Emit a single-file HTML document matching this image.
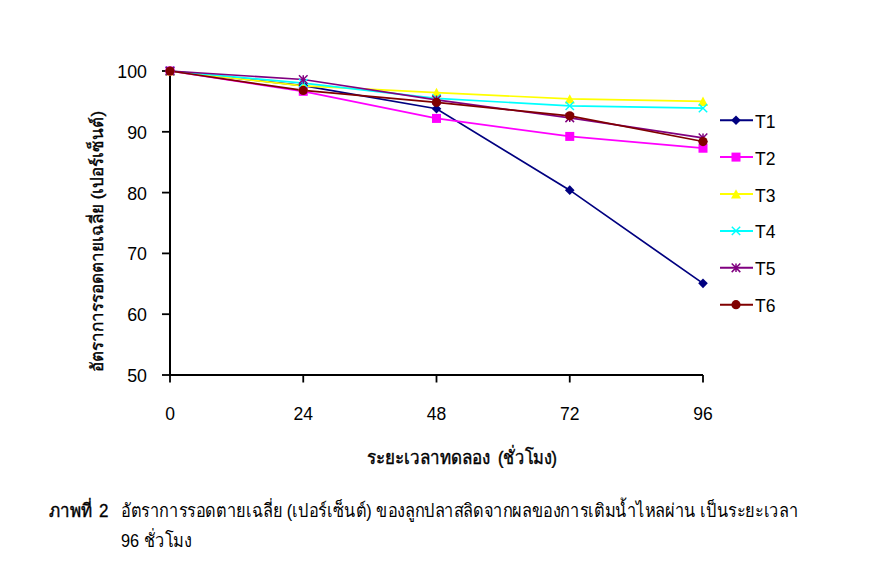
<!DOCTYPE html>
<html><head><meta charset="utf-8"><style>
html,body{margin:0;padding:0;background:#fff;width:874px;height:581px;overflow:hidden}
body{position:relative;font-family:"Liberation Sans",sans-serif;color:#000}
svg{position:absolute;left:0;top:0}
.yl{position:absolute;left:100px;width:47px;text-align:right;font-size:17.8px;line-height:22px}
.xl{position:absolute;top:403px;width:60px;text-align:center;font-size:17.5px;line-height:22px}
.lt{position:absolute;left:755px;font-size:17.5px;line-height:22px}
.ytitle{position:absolute;left:0;top:0;white-space:nowrap;font-size:17px;line-height:20px;transform-origin:0 0;-webkit-text-stroke:0.4px #000}
.xtitle{position:absolute;top:443px;white-space:nowrap;font-size:17px;line-height:30px;transform:scale(1,1.1);transform-origin:0 50%;-webkit-text-stroke:0.4px #000}
.cap{position:absolute;white-space:nowrap;font-size:17px;line-height:30px;transform-origin:0 50%}
</style></head><body>
<svg width="874" height="581" viewBox="0 0 874 581"><path d="M170 71V375H703" stroke="#000" stroke-width="2" fill="none"/><line x1="162" y1="71.00" x2="170" y2="71.00" stroke="#000" stroke-width="1.8"/><line x1="162" y1="131.80" x2="170" y2="131.80" stroke="#000" stroke-width="1.8"/><line x1="162" y1="192.60" x2="170" y2="192.60" stroke="#000" stroke-width="1.8"/><line x1="162" y1="253.40" x2="170" y2="253.40" stroke="#000" stroke-width="1.8"/><line x1="162" y1="314.20" x2="170" y2="314.20" stroke="#000" stroke-width="1.8"/><line x1="162" y1="375.00" x2="170" y2="375.00" stroke="#000" stroke-width="1.8"/><line x1="170.00" y1="375" x2="170.00" y2="382.5" stroke="#000" stroke-width="1.8"/><line x1="303.25" y1="375" x2="303.25" y2="382.5" stroke="#000" stroke-width="1.8"/><line x1="436.50" y1="375" x2="436.50" y2="382.5" stroke="#000" stroke-width="1.8"/><line x1="569.75" y1="375" x2="569.75" y2="382.5" stroke="#000" stroke-width="1.8"/><line x1="703.00" y1="375" x2="703.00" y2="382.5" stroke="#000" stroke-width="1.8"/><polyline points="170.00,71.00 303.25,85.59 436.50,108.70 569.75,190.17 703.00,283.37" stroke="#000080" stroke-width="1.7" fill="none"/><polyline points="170.00,71.00 303.25,91.31 436.50,118.42 569.75,136.42 703.00,148.22" stroke="#FF00FF" stroke-width="1.7" fill="none"/><polyline points="170.00,71.00 303.25,85.90 436.50,92.58 569.75,98.97 703.00,101.40" stroke="#FFFF00" stroke-width="1.7" fill="none"/><polyline points="170.00,71.00 303.25,83.16 436.50,98.36 569.75,105.90 703.00,108.09" stroke="#00FFFF" stroke-width="1.7" fill="none"/><polyline points="170.00,71.00 303.25,79.51 436.50,99.88 569.75,117.82 703.00,137.88" stroke="#800080" stroke-width="1.7" fill="none"/><polyline points="170.00,71.00 303.25,90.46 436.50,102.37 569.75,115.81 703.00,141.53" stroke="#800000" stroke-width="1.7" fill="none"/><path d="M170.00 66.20L174.80 71.00L170.00 75.80L165.20 71.00Z" fill="#000080"/><path d="M303.25 80.79L308.05 85.59L303.25 90.39L298.45 85.59Z" fill="#000080"/><path d="M436.50 103.90L441.30 108.70L436.50 113.50L431.70 108.70Z" fill="#000080"/><path d="M569.75 185.37L574.55 190.17L569.75 194.97L564.95 190.17Z" fill="#000080"/><path d="M703.00 278.57L707.80 283.37L703.00 288.17L698.20 283.37Z" fill="#000080"/><rect x="165.50" y="66.50" width="9.00" height="9.00" fill="#FF00FF"/><rect x="298.75" y="86.81" width="9.00" height="9.00" fill="#FF00FF"/><rect x="432.00" y="113.92" width="9.00" height="9.00" fill="#FF00FF"/><rect x="565.25" y="131.92" width="9.00" height="9.00" fill="#FF00FF"/><rect x="698.50" y="143.72" width="9.00" height="9.00" fill="#FF00FF"/><path d="M170.00 66.20L175.00 75.60L165.00 75.60Z" fill="#FFFF00"/><path d="M303.25 81.10L308.25 90.50L298.25 90.50Z" fill="#FFFF00"/><path d="M436.50 87.78L441.50 97.18L431.50 97.18Z" fill="#FFFF00"/><path d="M569.75 94.17L574.75 103.57L564.75 103.57Z" fill="#FFFF00"/><path d="M703.00 96.60L708.00 106.00L698.00 106.00Z" fill="#FFFF00"/><path d="M165.80 66.80L174.20 75.20M174.20 66.80L165.80 75.20" stroke="#00FFFF" stroke-width="1.45" fill="none"/><path d="M299.05 78.96L307.45 87.36M307.45 78.96L299.05 87.36" stroke="#00FFFF" stroke-width="1.45" fill="none"/><path d="M432.30 94.16L440.70 102.56M440.70 94.16L432.30 102.56" stroke="#00FFFF" stroke-width="1.45" fill="none"/><path d="M565.55 101.70L573.95 110.10M573.95 101.70L565.55 110.10" stroke="#00FFFF" stroke-width="1.45" fill="none"/><path d="M698.80 103.89L707.20 112.29M707.20 103.89L698.80 112.29" stroke="#00FFFF" stroke-width="1.45" fill="none"/><path d="M165.70 66.70L174.30 75.30M174.30 66.70L165.70 75.30M170.00 66.70L170.00 75.30" stroke="#800080" stroke-width="1.5" fill="none"/><path d="M298.95 75.21L307.55 83.81M307.55 75.21L298.95 83.81M303.25 75.21L303.25 83.81" stroke="#800080" stroke-width="1.5" fill="none"/><path d="M432.20 95.58L440.80 104.18M440.80 95.58L432.20 104.18M436.50 95.58L436.50 104.18" stroke="#800080" stroke-width="1.5" fill="none"/><path d="M565.45 113.52L574.05 122.12M574.05 113.52L565.45 122.12M569.75 113.52L569.75 122.12" stroke="#800080" stroke-width="1.5" fill="none"/><path d="M698.70 133.58L707.30 142.18M707.30 133.58L698.70 142.18M703.00 133.58L703.00 142.18" stroke="#800080" stroke-width="1.5" fill="none"/><circle cx="170.00" cy="71.00" r="4.6" fill="#800000"/><circle cx="303.25" cy="90.46" r="4.6" fill="#800000"/><circle cx="436.50" cy="102.37" r="4.6" fill="#800000"/><circle cx="569.75" cy="115.81" r="4.6" fill="#800000"/><circle cx="703.00" cy="141.53" r="4.6" fill="#800000"/><line x1="720" y1="120.20" x2="753" y2="120.20" stroke="#000080" stroke-width="2"/><path d="M736.00 115.40L740.80 120.20L736.00 125.00L731.20 120.20Z" fill="#000080"/><line x1="720" y1="157.10" x2="753" y2="157.10" stroke="#FF00FF" stroke-width="2"/><rect x="731.50" y="152.60" width="9.00" height="9.00" fill="#FF00FF"/><line x1="720" y1="194.00" x2="753" y2="194.00" stroke="#FFFF00" stroke-width="2"/><path d="M736.00 189.20L741.00 198.60L731.00 198.60Z" fill="#FFFF00"/><line x1="720" y1="230.90" x2="753" y2="230.90" stroke="#00FFFF" stroke-width="2"/><path d="M731.80 226.70L740.20 235.10M740.20 226.70L731.80 235.10" stroke="#00FFFF" stroke-width="1.45" fill="none"/><line x1="720" y1="267.80" x2="753" y2="267.80" stroke="#800080" stroke-width="2"/><path d="M731.70 263.50L740.30 272.10M740.30 263.50L731.70 272.10M736.00 263.50L736.00 272.10" stroke="#800080" stroke-width="1.5" fill="none"/><line x1="720" y1="304.70" x2="753" y2="304.70" stroke="#800000" stroke-width="2"/><circle cx="736.00" cy="304.70" r="4.6" fill="#800000"/></svg>
<div class="yl" style="top:61.0px">100</div><div class="yl" style="top:121.8px">90</div><div class="yl" style="top:182.6px">80</div><div class="yl" style="top:243.4px">70</div><div class="yl" style="top:304.2px">60</div><div class="yl" style="top:365.0px">50</div><div class="xl" style="left:140.00px">0</div><div class="xl" style="left:273.25px">24</div><div class="xl" style="left:406.50px">48</div><div class="xl" style="left:539.75px">72</div><div class="xl" style="left:673.00px">96</div><div class="lt" style="top:110.7px">T1</div><div class="lt" style="top:147.6px">T2</div><div class="lt" style="top:184.5px">T3</div><div class="lt" style="top:221.4px">T4</div><div class="lt" style="top:258.3px">T5</div><div class="lt" style="top:295.2px">T6</div>
<div class="ytitle" style="transform:translate(88px,372px) rotate(-90deg)">อัตราการรอดตายเฉลี่ย (เปอร์เซ็นต์)</div>
<div class="xtitle" style="left:367px">ระยะเวลาทดลอง</div><div class="xtitle" style="left:498px;transform:scale(0.96,1.1)">(ชั่วโมง)</div>
<div class="cap" style="left:49px;top:496px;-webkit-text-stroke:0.4px #000;transform:scale(1,1.1)">ภาพที่</div><div class="cap" style="left:99px;top:496px;-webkit-text-stroke:0.3px #000;transform:scale(1,1.1)">2</div>
<div class="cap" style="left:121px;top:496px;transform:scale(0.96,1.1)">อัตราการรอดตายเฉลี่ย (เปอร์เซ็นต์) ของลูกปลาสลิดจากผลของการเติมน้ำไหลผ่าน เป็นระยะเวลา</div>
<div class="cap" style="left:121px;top:526px;transform:scale(0.96,1.1)">96 ชั่วโมง</div>
</body></html>
